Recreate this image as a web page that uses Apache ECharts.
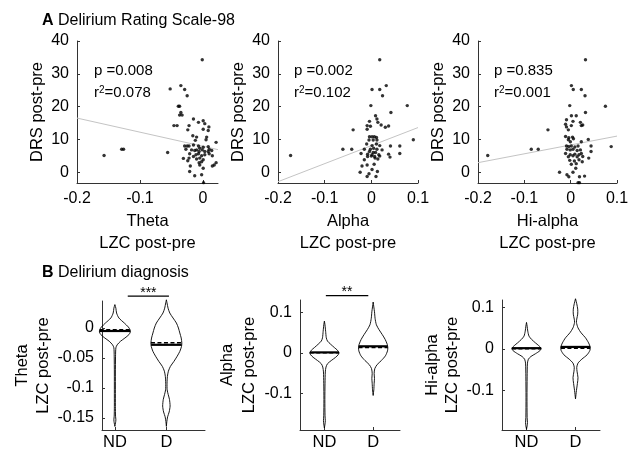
<!DOCTYPE html>
<html><head><meta charset="utf-8">
<script src="https://cdn.jsdelivr.net/npm/echarts@6/dist/echarts.min.js"></script>
<style>html,body{margin:0;padding:0;background:#fff}#c{width:635px;height:453px}</style>
</head><body><div id="c"></div>
<script>
// ---------------- DATA ----------------
const bandNames = ['Theta', 'Alpha', 'Hi-alpha'];
const groups = ['ND', 'D'];
const statP = ['0.008', '0.002', '0.835'];
const statR2 = ['0.078', '0.102', '0.001'];
const fitIntercept = [7.9, 8.1, 8.3];
const fitSlope = [-43, 55, 27];
const drsTicks = [0, 10, 20, 30, 40];
const lzcTicksTheta = [-0.2, -0.1, 0];
const lzcTicksAlpha = [-0.2, -0.1, 0, 0.1];
const violinTicksTheta = [0, -0.05, -0.1, -0.15];
const violinTicksAlpha = [-0.1, 0, 0.1];

// Scatter: LZC change (x) vs DRS change (y)
const thetaX = [-0.157,-0.129,-0.126,-0.056,-0.001,-0.052,-0.035,-0.029,-0.025,-0.039,-0.037,-0.035,-0.037,-0.033,-0.015,-0.046,-0.041,-0.007,0.0005,0.003,-0.022,-0.024,0.0005,0.0095,0.0085,-0.016,-0.010,-0.012,0.006,0.005,0.021,-0.029,-0.025,-0.022,-0.015,-0.007,-0.005,0.0005,0.0085,0.010,-0.027,-0.018,-0.013,-0.010,-0.006,-0.001,0.003,0.0085,0.014,-0.021,-0.011,-0.007,-0.002,0.003,0.010,0.015,-0.022,-0.015,-0.010,-0.005,0.0005,-0.031,-0.024,-0.006,-0.002,0.021,0.018,0.015,-0.020,-0.005,0.0005,-0.021,-0.013,-0.002,0.001];
const thetaY = [5.1,7.0,7.0,6.0,34.3,25.4,26.4,25.2,23.3,20.1,20.1,18.2,17.4,17.4,16.2,14.2,14.2,15.2,15.7,14.8,14.2,12.9,13.1,13.8,12.7,11.1,10.7,9.7,10.7,9.9,9.1,8.0,8.0,8.0,8.3,8.0,7.3,7.6,7.8,7.0,7.0,6.8,6.6,6.8,6.3,6.8,6.3,6.3,6.6,5.6,5.3,5.6,5.0,5.3,5.6,5.0,4.3,4.8,4.0,4.3,3.8,4.2,3.5,2.9,3.2,2.9,2.2,1.9,1.9,2.2,1.2,0.2,-1.1,-0.8,-3.2];
const alphaX = [-0.173,-0.061,-0.042,-0.039,0.018,0.0015,0.018,0.032,0.024,-0.001,0.077,0.042,0.009,0.012,-0.004,0.014,0.021,0.030,0.037,-0.009,-0.002,-0.009,-0.004,0.0015,0.0065,0.011,0.012,-0.005,0.004,0.090,-0.010,0.0015,0.011,0.018,0.041,0.061,-0.015,-0.002,0.005,0.012,0.023,-0.022,-0.008,0.0015,0.009,0.016,0.037,0.061,-0.008,0.0,0.007,0.018,0.014,-0.015,0.040,-0.020,-0.009,0.006,-0.024,-0.005,0.013,0.0015,-0.009,0.010,0.0015,0.004,-0.004,0.008];
const alphaY = [5.1,7.0,7.0,12.9,34.3,25.2,25.2,26.4,23.3,20.3,20.3,18.2,17.2,16.2,15.5,15.2,14.4,13.7,14.1,14.2,14.0,13.1,10.8,10.8,10.8,10.6,9.8,9.8,9.8,9.9,8.6,8.1,8.6,8.1,8.0,8.0,7.0,7.0,7.3,7.0,6.8,5.7,5.5,5.3,6.0,5.3,5.5,5.7,4.8,4.9,4.8,4.9,4.0,3.8,4.6,1.9,2.2,2.4,0.0,-0.5,0.2,0.8,-1.3,-1.3,-3.4,6.0,6.3,4.3];
const hiAlphaX = [-0.179,-0.085,-0.070,-0.049,0.032,0.0016,0.0056,0.023,0.031,-0.002,0.075,0.032,0.0016,0.012,-0.009,0.005,-0.011,0.021,0.026,0.023,-0.009,0.0014,-0.005,-0.011,-0.004,0.004,0.006,0.038,0.023,-0.005,-0.0007,0.0875,-0.009,-0.004,0.0014,0.009,0.016,0.044,-0.008,-0.001,0.005,0.014,0.021,0.044,-0.011,-0.001,0.009,0.018,0.023,-0.005,0.005,0.014,0.026,0.039,-0.002,0.008,0.018,0.025,0.0014,0.012,-0.024,-0.008,0.005,0.011,-0.004,0.019,0.030,0.016,0.019];
const hiAlphaY = [5.1,7.0,7.0,12.9,34.3,26.4,25.2,25.2,23.3,20.3,20.1,18.2,17.2,17.2,16.0,15.5,14.6,15.2,14.4,14.2,13.8,14.2,12.9,10.9,10.5,10.7,10.2,10.0,9.3,9.9,9.3,7.8,8.0,7.8,8.0,7.7,8.0,8.0,7.0,6.8,7.0,6.6,6.8,6.3,5.7,5.3,5.5,5.3,5.7,4.7,5.0,4.7,4.8,4.3,3.6,3.4,3.8,3.2,2.4,2.6,0.0,-0.8,0.0,1.2,-1.4,-1.4,-1.2,-3.2,-3.2];

// Violin profiles: LZC value (top to bottom) and relative density width
const thetaND_v = [0.039,0.033,0.025,0.0167,0.0083,0.0017,-0.0028,-0.0067,-0.011,-0.0167,-0.022,-0.028,-0.033,-0.047,-0.075,-0.103,-0.131,-0.147,-0.153,-0.158,-0.164];
const thetaND_d = [0,0.065,0.11,0.26,0.61,0.87,0.98,1,0.91,0.65,0.37,0.15,0.065,0.043,0.033,0.033,0.033,0.043,0.065,0.043,0];
const thetaD_v = [0.047,0.042,0.033,0.025,0.0167,0.0083,0,-0.0083,-0.0167,-0.025,-0.0306,-0.039,-0.047,-0.056,-0.064,-0.072,-0.081,-0.092,-0.103,-0.111,-0.119,-0.13,-0.14,-0.148,-0.156,-0.164];
const thetaD_d = [0,0.04,0.11,0.22,0.43,0.65,0.78,0.87,0.96,1,0.98,0.87,0.7,0.48,0.26,0.13,0.065,0.043,0.05,0.12,0.2,0.24,0.18,0.08,0.03,0];
const alphaND_v = [0.078,0.069,0.053,0.037,0.029,0.021,0.013,0.0064,0,-0.0048,-0.011,-0.019,-0.027,-0.035,-0.047,-0.075,-0.115,-0.155,-0.167,-0.175,-0.185];
const alphaND_d = [0,0.04,0.085,0.13,0.21,0.43,0.68,0.89,1,0.94,0.77,0.47,0.21,0.11,0.064,0.043,0.032,0.043,0.064,0.043,0];
const alphaD_v = [0.125,0.113,0.101,0.085,0.069,0.057,0.045,0.033,0.021,0.013,0.0048,-0.0072,-0.019,-0.029,-0.039,-0.051,-0.063,-0.075,-0.091,-0.105];
const alphaD_d = [0,0.044,0.09,0.13,0.22,0.4,0.62,0.82,0.96,1,0.98,0.84,0.56,0.27,0.11,0.067,0.09,0.067,0.044,0];
const hiAlphaND_v = [0.064,0.055,0.043,0.031,0.023,0.0147,0.0082,0.0016,-0.0041,-0.0114,-0.018,-0.0245,-0.034,-0.067,-0.116,-0.165,-0.177,-0.185,-0.193];
const hiAlphaND_d = [0,0.043,0.087,0.17,0.35,0.61,0.83,1,0.91,0.61,0.3,0.13,0.065,0.043,0.033,0.043,0.065,0.043,0];
const hiAlphaD_v = [0.121,0.109,0.096,0.084,0.072,0.064,0.051,0.039,0.027,0.0147,0.0049,-0.0033,-0.0139,-0.0245,-0.034,-0.044,-0.055,-0.069,-0.083,-0.1,-0.12];
const hiAlphaD_d = [0,0.085,0.15,0.15,0.085,0.064,0.17,0.38,0.68,0.89,1,0.98,0.79,0.43,0.17,0.085,0.11,0.17,0.13,0.064,0];

// medians and means [ND, D]
const thetaMedian = [-0.005, -0.028];
const thetaMean = [-0.003, -0.0245];
const alphaMedian = [0.001, 0.016];
const alphaMean = [0.0, 0.013];
const hiAlphaMedian = [0.002, 0.005];
const hiAlphaMean = [0.001, 0.002];

// significance bars
const sigStart = [1.25, 1.03];
const sigEnd = [2.05, 1.9];
const sigLevel = [0.053, 0.141];
const sigLabel = ['***', '**'];

// ---------------- CHART ----------------
const FONT = '"Liberation Sans", Arial, sans-serif';
const HALF = 0.3;
const AX = '#333';

const chart = echarts.init(document.getElementById('c'), null, {renderer: 'canvas'});

const gridsA = [
  {left: 77, top: 41, width: 141, height: 142},
  {left: 278, top: 41, width: 140, height: 142},
  {left: 478, top: 41, width: 139, height: 142}
];
const gridsB = [
  {left: 102, top: 301, width: 103, height: 129},
  {left: 300, top: 300, width: 100, height: 130},
  {left: 502, top: 300, width: 98, height: 130}
];
const xMaxA = [0.024, 0.1, 0.1];
const xTicksA = [lzcTicksTheta, lzcTicksAlpha, lzcTicksAlpha];
const xRangeB = [[0.75, 2.75], [0.5, 2.55], [0.5, 2.5]];
const yRangeB = [[-0.17, 0.045], [-0.19, 0.13], [-0.195, 0.118]];
const yTicksB = [violinTicksTheta, violinTicksAlpha, violinTicksAlpha];
const yNameGapB = [47, 35, 38];
const yNameLHB = [21, 22, 20];
const yNameGapA = [28, 28, 29];

const lbl = {color: '#000', fontSize: 16, fontFamily: FONT};
const nameStyle = (lh) => ({color: '#000', fontSize: 16.5, fontFamily: FONT, lineHeight: lh});

function baseAxis(i, min, max, ticks) {
  return {
    type: 'value', gridIndex: i, min: min, max: max,
    splitLine: {show: false},
    axisLine: {show: true, onZero: false, lineStyle: {color: AX, width: 1}},
    axisTick: {show: true, inside: true, length: 3, lineStyle: {color: AX}, customValues: ticks},
    axisLabel: Object.assign({customValues: ticks, margin: 8, showMinLabel: true, showMaxLabel: true}, lbl)
  };
}

const grid = [], xAxis = [], yAxis = [], series = [];
for (let i = 0; i < 3; i++) {
  grid.push(Object.assign({outerBoundsMode: 'none', containLabel: false}, gridsA[i]));
  const xa = baseAxis(i, -0.2, xMaxA[i], xTicksA[i]);
  xa.name = bandNames[i] + '\nLZC post-pre';
  xa.nameLocation = 'middle';
  xa.nameGap = 27;
  xa.nameTextStyle = nameStyle(22);
  xAxis.push(xa);
  const ya = baseAxis(i, -3.3, 40, drsTicks);
  ya.name = 'DRS post-pre';
  ya.nameLocation = 'middle';
  ya.nameGap = yNameGapA[i];
  ya.nameTextStyle = nameStyle(20);
  yAxis.push(ya);
}
for (let i = 0; i < 3; i++) {
  const g = i + 3;
  grid.push(Object.assign({outerBoundsMode: 'none', containLabel: false}, gridsB[i]));
  const xa = baseAxis(g, xRangeB[i][0], xRangeB[i][1], [1, 2]);
  xa.axisLabel.formatter = v => groups[Math.round(v) - 1] || '';
  xa.axisLabel.fontSize = 16.5;
  xa.axisLabel.margin = 4;
  xAxis.push(xa);
  const ya = baseAxis(g, yRangeB[i][0], yRangeB[i][1], yTicksB[i]);
  ya.name = bandNames[i] + '\nLZC post-pre';
  ya.nameLocation = 'middle';
  ya.nameGap = yNameGapB[i];
  ya.nameTextStyle = nameStyle(yNameLHB[i]);
  yAxis.push(ya);
}

// scatter + fit lines
const scatterX = [thetaX, alphaX, hiAlphaX];
const scatterY = [thetaY, alphaY, hiAlphaY];
for (let i = 0; i < 3; i++) {
  const x0 = -0.2, x1 = xMaxA[i];
  series.push({
    type: 'line', xAxisIndex: i, yAxisIndex: i, silent: true, symbol: 'none', z: 1,
    lineStyle: {color: '#c4c4c4', width: 1},
    data: [[x0, fitIntercept[i] + fitSlope[i] * x0], [x1, fitIntercept[i] + fitSlope[i] * x1]]
  });
  series.push({
    type: 'scatter', xAxisIndex: i, yAxisIndex: i, silent: true, symbolSize: 3.4, z: 3,
    itemStyle: {color: '#000'},
    data: scatterX[i].map((x, k) => [x, scatterY[i][k]])
  });
}

function interp(vs, ds, y) {
  for (let k = 0; k < vs.length - 1; k++) {
    const a = vs[k], b = vs[k + 1];
    if ((y <= a && y >= b)) {
      const t = (a - y) / (a - b || 1);
      return ds[k] + t * (ds[k + 1] - ds[k]);
    }
  }
  return 0;
}

function violin(gi, center, vs, ds, median, mean) {
  return {
    type: 'custom', xAxisIndex: gi, yAxisIndex: gi, silent: true, clip: false, z: 2,
    data: [[center, median]],
    renderItem: function (params, api) {
      const pts = [];
      for (let k = 0; k < vs.length; k++) pts.push(api.coord([center + ds[k] * HALF, vs[k]]));
      for (let k = vs.length - 1; k >= 0; k--) pts.push(api.coord([center - ds[k] * HALF, vs[k]]));
      const wm = interp(vs, ds, median) * HALF;
      const wa = interp(vs, ds, mean) * HALF;
      const m0 = api.coord([center - wm, median]), m1 = api.coord([center + wm, median]);
      const a0 = api.coord([center - wa, mean]), a1 = api.coord([center + wa, mean]);
      return {
        type: 'group',
        children: [
          {type: 'polygon', shape: {points: pts, smooth: 0.25}, style: {fill: 'none', stroke: '#000', lineWidth: 0.9}},
          {type: 'line', shape: {x1: a0[0], y1: a0[1], x2: a1[0], y2: a1[1]}, style: {stroke: '#000', lineWidth: 1.6, lineDash: [4, 2.5]}},
          {type: 'line', shape: {x1: m0[0], y1: m0[1], x2: m1[0], y2: m1[1]}, style: {stroke: '#000', lineWidth: 2.2}}
        ]
      };
    }
  };
}

series.push(violin(3, 1, thetaND_v, thetaND_d, thetaMedian[0], thetaMean[0]));
series.push(violin(3, 2, thetaD_v, thetaD_d, thetaMedian[1], thetaMean[1]));
series.push(violin(4, 1, alphaND_v, alphaND_d, alphaMedian[0], alphaMean[0]));
series.push(violin(4, 2, alphaD_v, alphaD_d, alphaMedian[1], alphaMean[1]));
series.push(violin(5, 1, hiAlphaND_v, hiAlphaND_d, hiAlphaMedian[0], hiAlphaMean[0]));
series.push(violin(5, 2, hiAlphaD_v, hiAlphaD_d, hiAlphaMedian[1], hiAlphaMean[1]));

for (let s = 0; s < sigLabel.length; s++) {
  const gi = 3 + s;
  series.push({
    type: 'custom', xAxisIndex: gi, yAxisIndex: gi, silent: true, clip: false,
    data: [[sigStart[s], sigEnd[s], sigLevel[s]]],
    renderItem: function (params, api) {
      const p0 = api.coord([api.value(0), api.value(2)]);
      const p1 = api.coord([api.value(1), api.value(2)]);
      return {
        type: 'group',
        children: [
          {type: 'line', shape: {x1: p0[0], y1: p0[1], x2: p1[0], y2: p1[1]}, style: {stroke: '#000', lineWidth: 1.2}},
          {type: 'text', x: (p0[0] + p1[0]) / 2, y: p0[1] + 4,
           style: {text: sigLabel[s], fill: '#000', font: '14px ' + FONT, align: 'center', verticalAlign: 'bottom'}}
        ]
      };
    }
  });
}

// annotations
const graphic = [
  {type: 'text', x: 42, y: 20.5, style: {text: '{b|A} Delirium Rating Scale-98', fill: '#000', font: '16px ' + FONT, verticalAlign: 'middle',
    rich: {b: {fontWeight: 'bold', fontSize: 16, fontFamily: FONT, fill: '#000'}}}},
  {type: 'text', x: 42, y: 273, style: {text: '{b|B} Delirium diagnosis', fill: '#000', font: '16px ' + FONT, verticalAlign: 'middle',
    rich: {b: {fontWeight: 'bold', fontSize: 16, fontFamily: FONT, fill: '#000'}}}}
];
const statX = [94, 294, 494];
for (let i = 0; i < 3; i++) {
  graphic.push({type: 'text', x: statX[i], y: 71, style: {text: 'p =' + statP[i], fill: '#000', font: '15px ' + FONT, verticalAlign: 'middle'}});
  graphic.push({type: 'text', x: statX[i], y: 93, style: {
    text: 'r{s|2}=' + statR2[i], fill: '#000', font: '15px ' + FONT, verticalAlign: 'middle',
    rich: {s: {fontSize: 10, fontFamily: FONT, verticalAlign: 'top', fill: '#000'}}}});
}

chart.setOption({animation: false, backgroundColor: '#fff', grid, xAxis, yAxis, series, graphic});
</script>
</body></html>
